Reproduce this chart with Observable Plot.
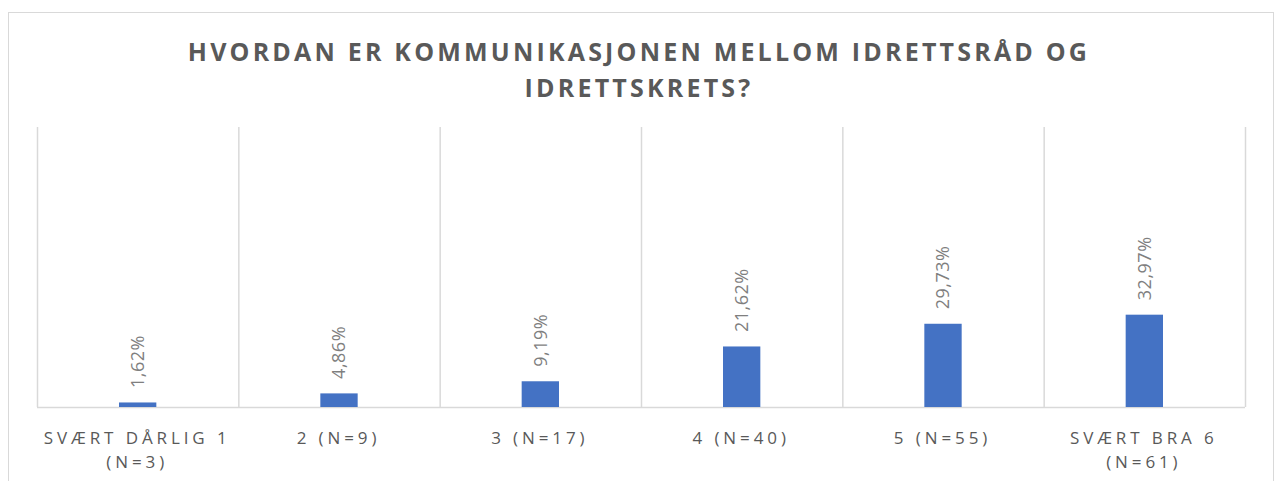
<!DOCTYPE html>
<html><head><meta charset="utf-8">
<script src="https://cdn.jsdelivr.net/npm/d3@7"></script>
<script src="https://cdn.jsdelivr.net/npm/@observablehq/plot@0.6"></script>
<style>
html,body{margin:0;padding:0;background:#fff;width:1274px;height:481px;overflow:hidden;position:relative;}
#frame{position:absolute;left:8px;top:12px;width:1266px;height:520px;border:1.5px solid #d9d9d9;box-sizing:border-box;}
#title{position:absolute;left:0;top:33px;width:1278px;text-align:center;font-family:"Open Sans",sans-serif;font-weight:bold;font-size:25px;letter-spacing:3.2px;color:#595959;line-height:36px;white-space:pre-line;}
#chart{position:absolute;left:0;top:0;}
</style></head>
<body>
<div id="frame"></div>
<div id="title"></div>
<div id="chart"></div>
<script>
const titleText = "HVORDAN ER KOMMUNIKASJONEN MELLOM IDRETTSRÅD OG\nIDRETTSKRETS?";
const categories = ["SVÆRT DÅRLIG 1\n(N=3)", "2 (N=9)", "3 (N=17)", "4 (N=40)", "5 (N=55)", "SVÆRT BRA 6\n(N=61)"];
const values = [1.62, 4.86, 9.19, 21.62, 29.73, 32.97];
const yDomain = [0, 100];

document.getElementById("title").textContent = titleText;
const fmt = d => d.toFixed(2).replace(".", ",") + "%";
const idx = d3.range(categories.length);

const plot = Plot.plot({
  width: 1274,
  height: 481,
  marginTop: 127,
  marginBottom: 74,
  marginLeft: 37,
  marginRight: 29,
  x: {type: "linear", domain: [0, categories.length], axis: null},
  y: {domain: yDomain, axis: null},
  style: {fontFamily: "'Open Sans', sans-serif", background: "transparent"},
  marks: [
    Plot.ruleX(d3.range(categories.length + 1), {x: d => d, y1: yDomain[0], y2: yDomain[1], stroke: "#d9d9d9", strokeWidth: 1.5, strokeOpacity: 1}),
    Plot.ruleY([0], {stroke: "#d9d9d9", strokeWidth: 1.5, strokeOpacity: 1}),
    Plot.rectY(idx, {x1: i => i, x2: i => i + 1, y1: 0, y2: i => values[i], fill: "#4472c4", insetLeft: 82, insetRight: 82}),
    Plot.text(idx, {x: i => i + 0.5, y: i => values[i], text: i => fmt(values[i]), rotate: -90, textAnchor: "start", dy: -15, fill: "#7f7f7f", fontSize: 18}),
    Plot.text(idx, {x: i => i + 0.5, text: i => categories[i], frameAnchor: "bottom", lineAnchor: "top", dy: 20, dx: -1, lineHeight: 1.4, fill: "#595959", fontSize: 17})
  ]
});
document.getElementById("chart").appendChild(plot);
d3.select(plot).selectAll("text").each(function() {
  const t = this.textContent;
  d3.select(this).style("letter-spacing", t.includes("%") ? "0.5px" : "3.9px");
});
</script>
</body></html>
